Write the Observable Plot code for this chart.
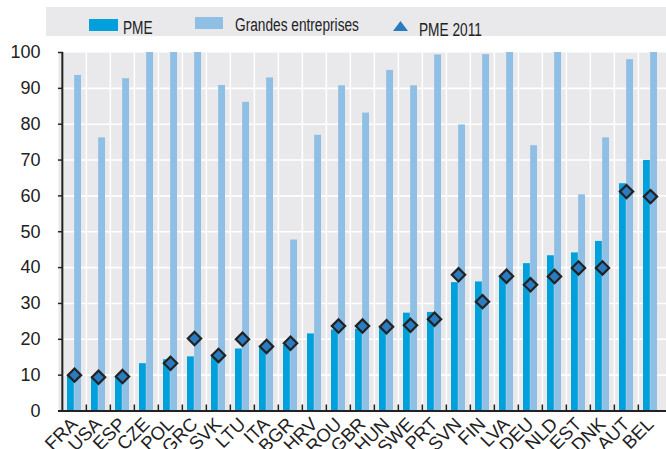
<!DOCTYPE html>
<html>
<head>
<meta charset="utf-8">
<script src="https://cdn.jsdelivr.net/npm/d3@7"></script>
<script src="https://cdn.jsdelivr.net/npm/@observablehq/plot@0.6"></script>
<style>
  html, body { margin: 0; padding: 0; background: #fff; }
  body { width: 666px; height: 449px; overflow: hidden; font-family: "Liberation Sans", Arial, sans-serif; color: #222; }
  #legend { position: relative; width: 666px; height: 40px; }
  #legend .box { position: absolute; left: 46px; top: 7px; width: 620px; height: 29px; background: #e9e9ec; }
  #legend .sw { position: absolute; }
  #legend .lt { position: absolute; font-size: 18px; line-height: 18px; white-space: nowrap; transform: scaleX(0.76); transform-origin: 0 0; }
  #chart svg { display: block; }
</style>
</head>
<body>
<div id="legend"></div>
<div id="chart"></div>
<script>
// ---- data ----
const countries = ["FRA","USA","ESP","CZE","POL","GRC","SVK","LTU","ITA","BGR","HRV","ROU","GBR","HUN","SWE","PRT","SVN","FIN","LVA","DEU","NLD","EST","DNK","AUT","BEL"];
const pme = [10.0,9.5,9.6,13.2,14.3,15.1,15.7,17.3,17.6,18.3,21.5,22.6,22.8,23.4,27.3,27.5,35.8,36.0,37.3,41.1,43.3,44.1,47.3,63.4,69.9];
const grandes = [93.6,76.2,92.7,100,100,100,90.8,86.1,92.9,47.7,76.9,90.7,83.1,95.0,90.7,99.3,79.8,99.4,100,74.0,100,60.3,76.2,98.0,100];
const pme2011 = [10.0,9.4,9.6,null,13.3,20.2,15.5,20.0,18.0,18.9,null,23.7,23.7,23.5,23.9,25.6,38.0,30.5,37.6,35.2,37.5,39.9,39.9,61.2,59.8];
const yTicks = [0,10,20,30,40,50,60,70,80,90,100];
const seriesNames = ["PME", "Grandes entreprises", "PME 2011"];

// ---- styles ----
const cDark = "#00a0dc", cLight = "#8fbfe4", cDiamond = "#2a7bbf", cBg = "#e9e9ec", cInk = "#222";
const W = 666, H = 409, mL = 58, mR = 0, mT = 12, mB = 38.5;
const bw = (W - mL - mR) / countries.length;
const plotH = H - mT - mB;

const data = countries.map((c, i) => ({country: c, pme: pme[i], grandes: grandes[i], pme2011: pme2011[i]}));

// ---- legend ----
const lg = document.getElementById("legend");
lg.innerHTML = `
  <div class="box"></div>
  <div class="sw" style="left:89px;top:19px;width:29px;height:12px;background:${cDark}"></div>
  <div class="lt" style="left:123px;top:19px">${seriesNames[0]}</div>
  <div class="sw" style="left:195px;top:17px;width:28px;height:12px;background:${cLight}"></div>
  <div class="lt" style="left:235px;top:16px">${seriesNames[1]}</div>
  <svg class="sw" style="left:392px;top:20px" width="17" height="12"><polygon points="1,11 8.5,1 16,11" fill="${cDiamond}"/></svg>
  <div class="lt" style="left:419px;top:21px">${seriesNames[2]}</div>
`;

// ---- chart ----
const chart = Plot.plot({
  width: W, height: H,
  marginLeft: mL, marginRight: mR, marginTop: mT, marginBottom: mB,
  style: {fontFamily: "'Liberation Sans', Arial, sans-serif", color: cInk, background: "transparent"},
  x: {domain: countries, padding: 0},
  y: {domain: [0, 100]},
  marks: [
    Plot.frame({fill: cBg, stroke: null}),
    Plot.ruleY(yTicks.filter(t => t > 0 && t < 100), {y: d => d, stroke: "white", strokeWidth: 1.6}),
    Plot.tickX(countries.slice(1), {x: d => d, dx: -bw / 2, stroke: "white", strokeWidth: 1.6}),
    Plot.barY(data, {x: "country", y: "pme", fill: cDark, insetLeft: 5, insetRight: bw / 2}),
    Plot.barY(data, {x: "country", y: "grandes", fill: cLight, insetLeft: bw / 2, insetRight: 5}),
    Plot.dot(data.filter(d => d.pme2011 != null), {x: "country", y: "pme2011", symbol: "diamond2", r: 6, fill: cDiamond, stroke: cInk, strokeWidth: 2.2}),
    Plot.tickX([countries[0]], {x: d => d, dx: -bw / 2, stroke: cInk, strokeWidth: 2}),
    Plot.ruleY([0], {stroke: cInk, strokeWidth: 2}),
    Plot.tickY(yTicks, {y: d => d, insetRight: W - mL - mR - 5, stroke: cInk, strokeWidth: 1.5}),
    Plot.tickX(countries.slice(1), {x: d => d, dx: -bw / 2, insetTop: plotH - 6, stroke: cInk, strokeWidth: 1.5}),
    Plot.axisY({ticks: yTicks, tickSize: 0, tickPadding: 18, fontSize: 18, label: null}),
    Plot.axisX({tickSize: 0, tickPadding: 10, tickRotate: -45, fontSize: 18.5, label: null})
  ]
});
document.getElementById("chart").appendChild(chart);
</script>
</body>
</html>
